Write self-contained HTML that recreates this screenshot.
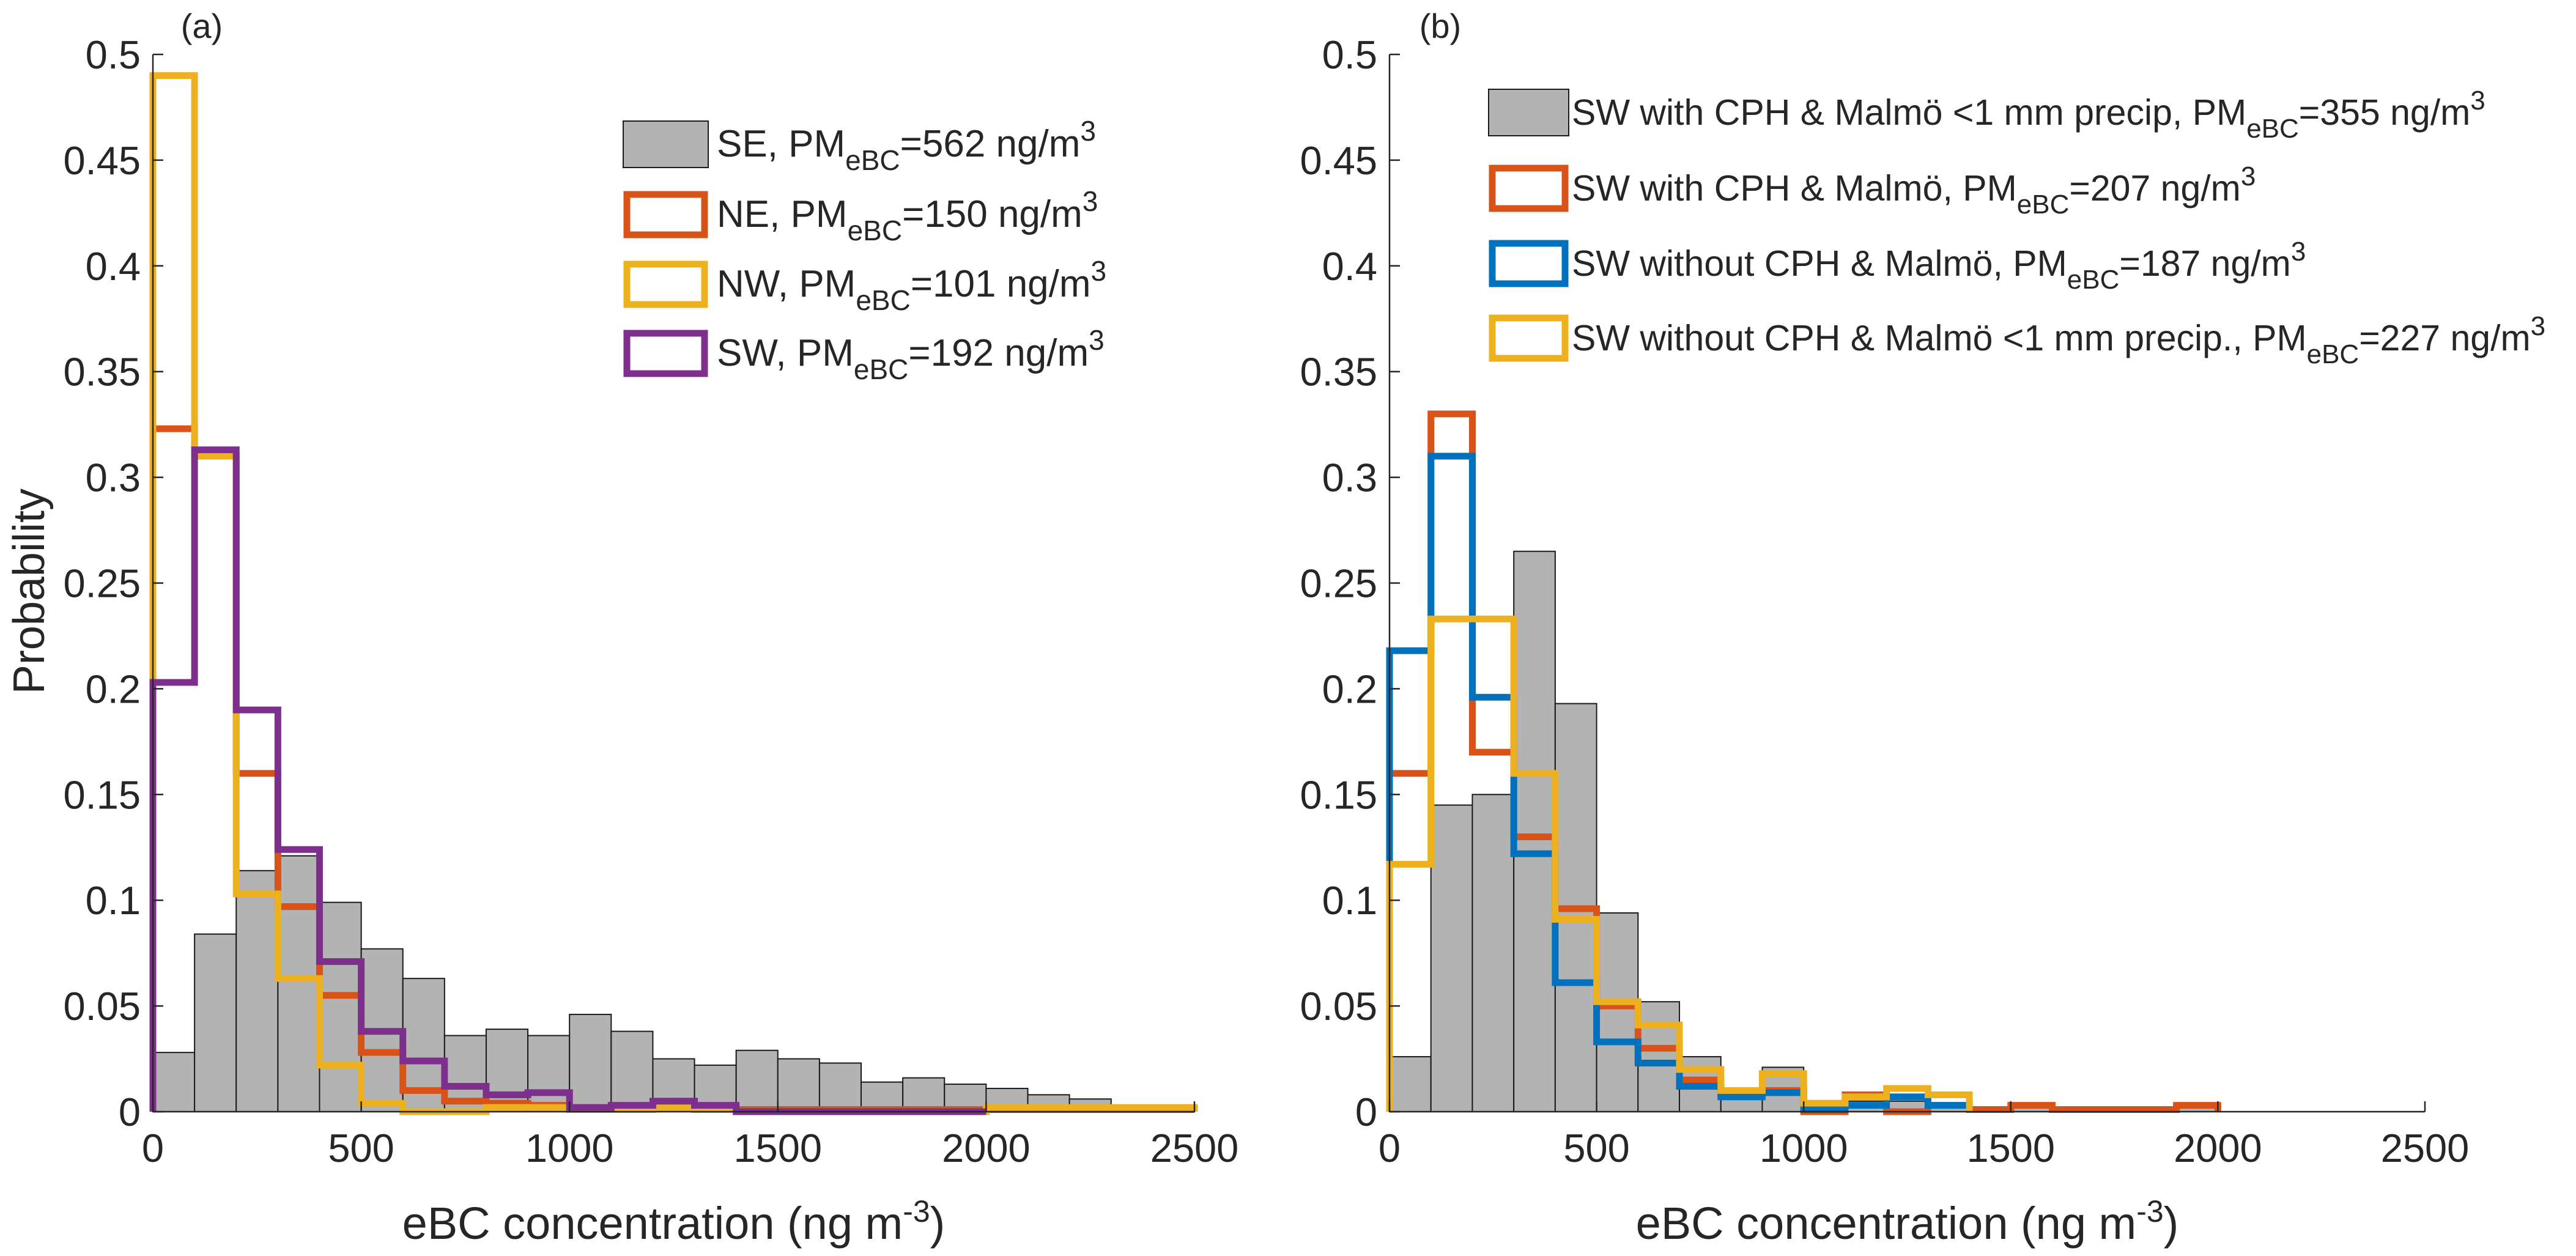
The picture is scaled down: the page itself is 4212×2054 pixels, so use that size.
<!DOCTYPE html>
<html><head><meta charset="utf-8"><style>
html,body{margin:0;padding:0;background:#fff}
svg{display:block}
text{font-family:"Liberation Sans",Arial,sans-serif;fill:#262626}
</style></head><body>
<svg id="chart" width="4212" height="2054" viewBox="0 0 4212 2054" xmlns="http://www.w3.org/2000/svg"></svg>
<script>
const yTicks=[0,0.05,0.1,0.15,0.2,0.25,0.3,0.35,0.4,0.45,0.5];
const yTickLabels=["0","0.05","0.1","0.15","0.2","0.25","0.3","0.35","0.4","0.45","0.5"];
const xTicks=[0,500,1000,1500,2000,2500];
const binWidth=100;
// Panel (a)
const aSE=[0.028,0.084,0.114,0.121,0.099,0.077,0.063,0.036,0.039,0.036,0.046,0.038,0.025,0.022,0.029,0.025,0.023,0.014,0.016,0.013,0.011,0.008,0.006,0.001,0.003];
const aNE=[0.323,0.310,0.160,0.097,0.055,0.028,0.010,0.005,0.004,0.003,0.001,0.001,0.002,0.001,0.001,0.001,0.001,0.001,0.001,0.001,0.001,0.001,0.001,0.001,0.001];
const aNW=[0.490,0.310,0.103,0.063,0.022,0.004,0.000,0.000,0.002,0.002,0.001,0.001,0.002,0.001,0.000,0.000,0.000,0.000,0.000,0.000,0.002,0.002,0.002,0.002,0.002];
const aSW=[0.203,0.313,0.190,0.124,0.071,0.038,0.024,0.012,0.008,0.009,0.002,0.003,0.005,0.003,0.000,0.000,0.000,0.000,0.000,0.000];
// Panel (b)
const bGray=[0.026,0.145,0.150,0.265,0.193,0.094,0.052,0.026,0.006,0.021,0.002,0.005,0.005,0.003,0.000,0.003,0.000,0.000,0.000,0.003];
const bOrange=[0.160,0.330,0.170,0.130,0.096,0.050,0.030,0.015,0.008,0.010,0.000,0.008,0.000,0.003,0.001,0.003,0.001,0.001,0.001,0.003];
const bBlue=[0.218,0.310,0.196,0.122,0.061,0.033,0.023,0.012,0.007,0.009,0.001,0.003,0.007,0.003];
const bYellow=[0.117,0.233,0.233,0.160,0.091,0.052,0.041,0.020,0.010,0.018,0.004,0.007,0.011,0.008];

const C={gray:"#b3b3b3",orange:"#d95319",yellow:"#edb120",purple:"#7e2f8e",blue:"#0072bd"};
const svg=document.getElementById('chart');
const NS="http://www.w3.org/2000/svg";
function mk(tag,attrs,parent){const e=document.createElementNS(NS,tag);for(const k in attrs)e.setAttribute(k,attrs[k]);(parent||svg).appendChild(e);return e;}

function panel(px0,px1,name){
  const y0=1818,y1=89;
  const sx=v=>px0+(px1-px0)*v/2500;
  const sy=v=>y0-(y0-y1)*v/0.5;
  const g=mk('g',{});
  
  
  return {g,sx,sy,y0,y1,px0,px1};
}
function bars(P,vals,name){
  const g=mk('g',{},P.g);
  
  
  vals.forEach((v,i)=>{
    if(v<=0)return;
    const x=P.sx(i*binWidth),w=P.sx((i+1)*binWidth)-x,y=P.sy(v);
    const r=mk('rect',{x:x,y:y,width:w,height:P.y0-y,fill:C.gray,stroke:"#1a1a1a","stroke-width":2},g);
    
    
  });
}
function stairs(P,vals,color,name){
  let d="M"+P.sx(0)+","+P.y0;
  vals.forEach((v,i)=>{d+=" L"+P.sx(i*binWidth)+","+P.sy(v)+" L"+P.sx((i+1)*binWidth)+","+P.sy(v);});
  d+=" L"+P.sx(vals.length*binWidth)+","+P.y0;
  const p=mk('path',{d:d,fill:"none",stroke:color,"stroke-width":11,"stroke-linejoin":"miter"},P.g);
  
  
}
function axes(P){
  const g=mk('g',{},P.g);
  
  
  mk('line',{x1:P.px0,y1:P.y0,x2:P.px1,y2:P.y0,stroke:"#262626","stroke-width":2.5},g);
  mk('line',{x1:P.px0,y1:P.y0,x2:P.px0,y2:P.y1,stroke:"#262626","stroke-width":2.5},g);
  yTicks.forEach((t,i)=>{
    const y=P.sy(t);
    mk('line',{x1:P.px0,y1:y,x2:P.px0+17,y2:y,stroke:"#262626","stroke-width":2.5},g);
    const tx=mk('text',{x:P.px0-20,y:y+23,"text-anchor":"end","font-size":65},g);
    tx.textContent=yTickLabels[i];
    
    
  });
  xTicks.forEach(t=>{
    const x=P.sx(t);
    mk('line',{x1:x,y1:P.y0,x2:x,y2:P.y0-17,stroke:"#262626","stroke-width":2.5},g);
    const tx=mk('text',{x:x,y:P.y0+82,"text-anchor":"middle","font-size":65},g);
    tx.textContent=String(t);
    
    
  });
  const xl=mk('text',{x:(P.px0+P.px1)/2,y:2026,"text-anchor":"middle","font-size":74},g);
  xl.innerHTML='eBC concentration (ng m<tspan dy="-28" font-size="50">-3</tspan><tspan dy="28">)</tspan>';
  
  
}
function legend(P,items,bx,bw,tx,ys,fs,name){
  const g=mk('g',{},P.g);
  
  
  const ss=Math.round(fs*0.74),dd=Math.round(fs*0.35),du=Math.round(fs*0.42);
  items.forEach((it,i)=>{
    const cy=ys[i];
    const e=mk('g',{},g);
    
    
    if(it.fill) mk('rect',{x:bx,y:cy-38,width:bw,height:76,fill:C.gray,stroke:"#1a1a1a","stroke-width":2},e);
    else mk('rect',{x:bx+6,y:cy-33,width:bw-12,height:66,fill:"none",stroke:it.color,"stroke-width":11},e);
    const t=mk('text',{x:tx,y:cy+20,"font-size":fs},e);
    t.innerHTML=it.pre+'PM<tspan dy="'+dd+'" font-size="'+ss+'">eBC</tspan><tspan dy="-'+dd+'">='+it.val+' ng/m</tspan><tspan dy="-'+du+'" font-size="'+ss+'">3</tspan>';
  });
}

// Panel A
const A=panel(250,1953,'panel-a');
bars(A,aSE,'se-bars');
stairs(A,aNE,C.orange,'ne-stairs');
stairs(A,aNW,C.yellow,'nw-stairs');
stairs(A,aSW,C.purple,'sw-stairs');
axes(A);
legend(A,[
 {fill:true,pre:'SE, ',val:'562'},
 {color:C.orange,pre:'NE, ',val:'150'},
 {color:C.yellow,pre:'NW, ',val:'101'},
 {color:C.purple,pre:'SW, ',val:'192'}
],1019,139,1172,[236,351,465,578],62,'legend-a');
let yl=mk('text',{x:0,y:0,"text-anchor":"middle","font-size":72,transform:"translate(72,967) rotate(-90)"});
yl.textContent='Probability';


let la=mk('text',{x:330,y:62,"text-anchor":"middle","font-size":56});
la.textContent='(a)';



// Panel B
const B=panel(2272,3965,'panel-b');
bars(B,bGray,'sw-cph-dry-bars');
stairs(B,bOrange,C.orange,'sw-cph-stairs');
stairs(B,bBlue,C.blue,'sw-no-cph-stairs');
stairs(B,bYellow,C.yellow,'sw-no-cph-dry-stairs');
axes(B);
legend(B,[
 {fill:true,pre:'SW with CPH &amp; Malmö &lt;1 mm precip, ',val:'355'},
 {color:C.orange,pre:'SW with CPH &amp; Malmö, ',val:'207'},
 {color:C.blue,pre:'SW without CPH &amp; Malmö, ',val:'187'},
 {color:C.yellow,pre:'SW without CPH &amp; Malmö &lt;1 mm precip., ',val:'227'}
],2434,131,2570,[184,308,431,553],59,'legend-b');
let lb=mk('text',{x:2355,y:62,"text-anchor":"middle","font-size":56});
lb.textContent='(b)';


</script>
</body></html>
